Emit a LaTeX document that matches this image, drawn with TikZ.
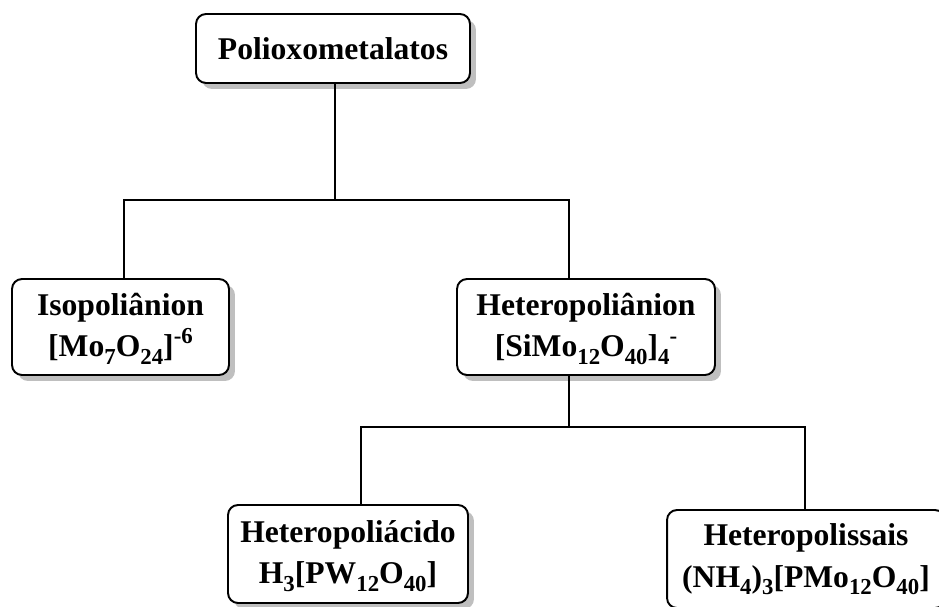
\documentclass[tikz,border=0pt]{standalone}
\usepackage{fontspec}
\setmainfont{Liberation Serif}
\usetikzlibrary{shadows}

\newcommand\ind[1]{\raisebox{-0.24em}[0pt][0pt]{\fontsize{13}{13}\selectfont #1}}
\newcommand\expo[1]{\raisebox{0.42em}[0pt][0pt]{\fontsize{13}{13}\selectfont #1}}

\tikzset{
	caixa/.style={draw,line width=1.1pt,rounded corners=0.2cm,fill=white,
		align=center,inner sep=0pt,
		font=\fontsize{18}{23.5}\selectfont\bfseries,
		drop shadow={shadow xshift=0.12cm,shadow yshift=-0.12cm,fill=black!25,opacity=1}},
	liga/.style={line width=1.1pt}
}

\begin{document}
\begin{tikzpicture}[x=0.02cm,y=0.02cm]
	\clip (0,0) rectangle (939,606);
	
	% caixas
	\node (poli) at (333,557.5)[caixa,minimum width=5.48cm,minimum height=1.38cm]{Polioxometalatos};
	\node (iso) at (120.5,279)[caixa,minimum width=4.34cm,minimum height=1.92cm]{Isopoliânion\\{}[Mo\ind{7}O\ind{24}]\expo{-6}};
	\node (hpa) at (586,279)[caixa,minimum width=5.16cm,minimum height=1.92cm]{Heteropoliânion\\{}[SiMo\ind{12}O\ind{40}]\ind{4}\expo{-}};
	\node (acido) at (348,52)[caixa,minimum width=4.8cm,minimum height=1.96cm]{Heteropoliácido\\H\ind{3}[PW\ind{12}O\ind{40}]};
	\node (sais) at (806,47)[caixa,minimum width=5.56cm,minimum height=1.96cm]{Heteropolissais\\(NH\ind{4})\ind{3}[PMo\ind{12}O\ind{40}]};
	
	% ligacoes
	\coordinate (j0) at (335,406);
	\coordinate (ja) at (124,406);
	\coordinate (jb) at (569,406);
	\coordinate (jc) at (569,179);
	\coordinate (jd) at (361,179);
	\coordinate (je) at (805,179);
	\draw[liga] (poli.south -| j0) -- (j0);
	\draw[liga] (iso.north -| ja) -- (ja) -- (jb) -- (hpa.north -| jb);
	\draw[liga] (hpa.south -| jc) -- (jc);
	\draw[liga] (acido.north -| jd) -- (jd) -- (je) -- (sais.north -| je);
\end{tikzpicture}
\end{document}
